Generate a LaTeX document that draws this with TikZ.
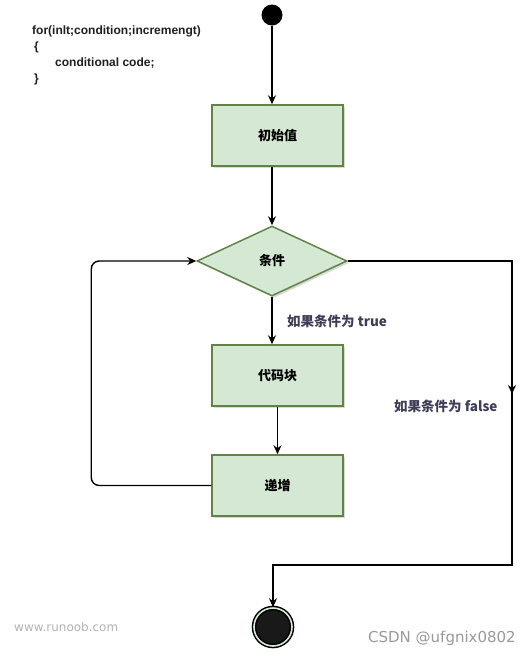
\documentclass[tikz,border=0pt]{standalone}
\usepackage{fontspec}
\setmainfont{Liberation Sans}
\newfontfamily\cjk{Noto Sans CJK SC}
\newfontfamily\markfont{DejaVu Sans}
\usetikzlibrary{arrows.meta,shapes.geometric,shadows}
\definecolor{boxfill}{RGB}{213,232,212}
\definecolor{boxline}{RGB}{96,132,70}
\definecolor{notetext}{RGB}{62,62,88}
\definecolor{ring}{RGB}{214,236,212}
\tikzset{
  box/.style={rectangle,draw=boxline,line width=1.5pt,fill=boxfill,minimum width=131pt,minimum height=61pt,
    drop shadow={opacity=0.3,shadow xshift=2pt,shadow yshift=-2pt},font=\cjk\bfseries\fontsize{13}{15}\selectfont},
  decision/.style={diamond,draw=boxline,line width=1.5pt,fill=boxfill,minimum width=150pt,minimum height=70pt,inner sep=0pt,
    drop shadow={opacity=0.3,shadow xshift=2pt,shadow yshift=-2pt},font=\cjk\bfseries\fontsize{13}{15}\selectfont},
  flow/.style={line width=1.4pt,-{Stealth[length=9pt,width=8pt]}},
  note/.style={text=notetext,font=\cjk\bfseries\fontsize{13.5}{15}\selectfont,anchor=west,inner sep=0pt},
}
\begin{document}
\begin{tikzpicture}[x=1pt,y=-1pt]
        \useasboundingbox (0,0) rectangle (531,657);
        % code
        \node[anchor=north west,align=left,inner sep=0pt,text=black!88,font=\bfseries\fontsize{12}{16}\selectfont] (code) at (32,26)
          {for(inlt;condition;incremengt)\\\,\{\\\hspace{23pt}conditional code;\\\,\}};
        % nodes
        \node[circle,fill=black,minimum size=21pt,inner sep=0pt] (start) at (272,15) {};
        \node[box] (init) at (277.5,135.5) {初始值};
        \node[decision] (cond) at (272,261) {条件};
        \node[box] (body) at (277.5,375.5) {代码块};
        \node[box] (incr) at (277.5,485.5) {递增};
        \node[circle,draw=black,line width=1.5pt,double=ring,double distance=1.6pt,fill=black!90,minimum size=38pt,inner sep=0pt] (stop) at (273,627) {};
        \coordinate (turn) at (512,565);
        % arrows
        \draw[flow] (start) -- (start |- init.north);
        \draw[flow] (init.south -| cond) -- (cond.north);
        \draw[flow] (cond.south) -- (cond.south |- body.north);
        \draw[flow] (body) -- (incr);
        \draw[flow,rounded corners=8pt] (incr.west) -- ++(-120,0) |- (cond.west);
        \draw[flow] (cond.east) -| (turn |- 0,394);
        \draw[flow] (turn |- 0,392) -- (turn) -| (stop.north);
        % labels
        \node[note] (yes) at (287,321) {如果条件为 true};
        \node[note] (no) at (394,406) {如果条件为 false};
        % watermarks
        \node[anchor=west,inner sep=0pt,text=black!30,font=\markfont\fontsize{12}{14}\selectfont] (site) at (14,627) {www.runoob.com};
        \node[anchor=west,inner sep=0pt,text=black!40,font=\markfont\fontsize{15}{17}\selectfont] (csdn) at (368,638) {CSDN @ufgnix0802};
\end{tikzpicture}
\end{document}
